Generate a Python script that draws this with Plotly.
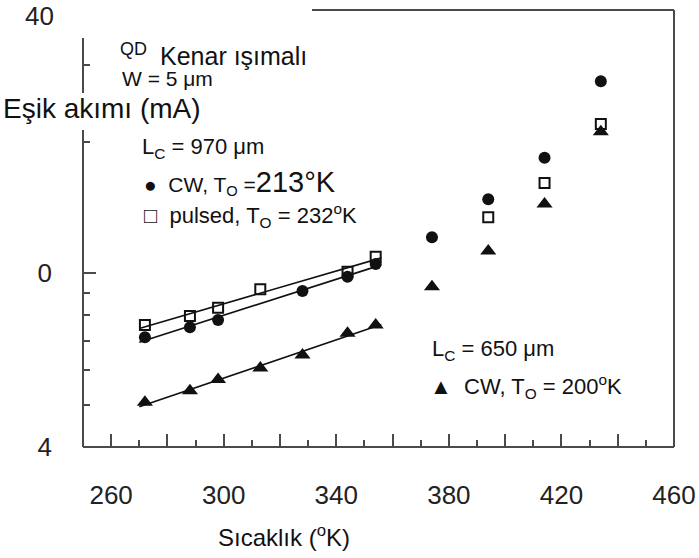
import numpy as np
import plotly.graph_objects as go

# ---- data ----
cw970_T = [272, 288, 298, 328, 344, 354, 374, 394, 414, 434]
cw970_I = [7.13, 7.52, 7.81, 9.10, 9.81, 10.49, 12.08, 14.75, 18.37, 27.5]
pulsed970_T = [272, 288, 298, 313, 344, 354, 394, 414, 434]
pulsed970_I = [7.61, 7.98, 8.33, 9.18, 10.07, 10.9, 13.42, 16.08, 21.94]
cw650_T = [272, 288, 298, 313, 328, 344, 354, 374, 394, 414, 434]
cw650_I = [5.06, 5.38, 5.71, 6.06, 6.49, 7.28, 7.61, 9.31, 11.23, 14.39, 21.07]

fit_limit_T = 355          # linear (log) fits use points up to this temperature
x_tick_labels = [260, 300, 340, 380, 420, 460]
y_tick_vals = [4, 10, 40]
y_tick_text = ["4", "0", "40"]
y_minor_vals = [5, 6, 7, 8, 9, 20, 30]

FONT = "Liberation Sans, Arial, sans-serif"
INK = "#111111"
FRAME = "#4a4a4a"

fig = go.Figure()


def fit_line(T, I):
    T = np.array(T, float)
    I = np.array(I, float)
    m = T <= fit_limit_T
    k, b = np.polyfit(T[m], np.log10(I[m]), 1)
    xs = np.array([T[m].min() - 2, T[m].max() + 2])
    return xs, 10 ** (k * xs + b)


for T, I in [(cw970_T, cw970_I), (pulsed970_T, pulsed970_I), (cw650_T, cw650_I)]:
    xs, ys = fit_line(T, I)
    fig.add_trace(go.Scatter(x=xs, y=ys, mode="lines",
                             line=dict(color=INK, width=1.6), showlegend=False,
                             hoverinfo="skip"))

fig.add_trace(go.Scatter(x=pulsed970_T, y=pulsed970_I, mode="markers",
                         marker=dict(symbol="square-open", size=10, color=INK,
                                     line=dict(width=2, color=INK)),
                         showlegend=False))
fig.add_trace(go.Scatter(x=cw970_T, y=cw970_I, mode="markers",
                         marker=dict(symbol="circle", size=12, color=INK),
                         showlegend=False))
fig.add_trace(go.Scatter(x=cw650_T, y=cw650_I, mode="markers",
                         marker=dict(symbol="triangle-up", size=14, color=INK),
                         showlegend=False))

# tick marks: long every 20, labelled every 40, short every 10
x_major = list(range(x_tick_labels[0], x_tick_labels[-1] + 1, 20))
x_major_text = [str(v) if v in x_tick_labels else "" for v in x_major]

# the top label (40) sits slightly below its tick in the reference: drawn as annotation
y_axis_text = y_tick_text[:-1] + [""]

eps = 2e-4
fig.update_xaxes(range=[250, 460], showgrid=False, zeroline=False, showline=False,
                 automargin=False,
                 tickmode="array", tickvals=x_major, ticktext=x_major_text,
                 ticks="inside", ticklen=13, tickwidth=2, tickcolor=FRAME,
                 ticklabelstandoff=30, ticklabeloverflow="allow",
                 tickfont=dict(family=FONT, size=26, color="#222222"),
                 minor=dict(dtick=10, tick0=250, ticks="inside", ticklen=7,
                            tickwidth=2, tickcolor=FRAME, showgrid=False))
fig.update_yaxes(type="log", range=[np.log10(4) - eps, np.log10(40) + eps], showgrid=False,
                 zeroline=False, showline=False, automargin=False,
                 tickmode="array", tickvals=y_tick_vals, ticktext=y_axis_text,
                 ticks="inside", ticklen=13, tickwidth=2, tickcolor=FRAME,
                 ticklabelstandoff=30, ticklabeloverflow="allow",
                 tickfont=dict(family=FONT, size=26, color="#222222"),
                 minor=dict(tickmode="array", tickvals=y_minor_vals, ticks="inside",
                            ticklen=7, tickwidth=2, tickcolor=FRAME, showgrid=False))

# plot-area geometry in pixels (for placing frame pieces and texts)
L, R, T_, B = 83, 674, 10, 447
W_, H_ = R - L, B - T_


def px(x):
    return (x - L) / W_


def py(y):
    return (B - y) / H_


frame = [
    (px(L), py(B), px(R), py(B)),          # bottom
    (px(R), py(B), px(R), py(T_)),         # right
    (px(312), py(T_), px(R), py(T_)),      # top (partially)
    (px(L), py(B), px(L), py(130)),        # left lower part
    (px(L), py(93), px(L), py(38)),        # left upper part
]
for x0, y0, x1, y1 in frame:
    fig.add_shape(type="line", xref="paper", yref="paper", x0=x0, y0=y0, x1=x1, y1=y1,
                  line=dict(color=FRAME, width=2))

fig.add_annotation(xref="paper", yref="paper", x=px(56), y=py(16), text=y_tick_text[-1],
                   showarrow=False, xanchor="right", yanchor="middle",
                   font=dict(family=FONT, size=26, color="#222222"))

texts = [
    (118, 49, "QD", 18),
    (158, 56, "Kenar ışımalı", 25),
    (120, 78, "W = 5 μm", 21),
    (1, 108, "Eşik akımı (mA)", 28),
    (140, 148, "L<sub>C</sub> = 970 μm", 22),
    (142, 183, "●  CW, T<sub>O</sub> =<span style='font-size:29px'>213°K</span>", 21),
    (142, 215, "□  pulsed, T<sub>O</sub> = 232<sup>o</sup>K", 22),
    (430, 350, "L<sub>C</sub> = 650 μm", 22),
    (428, 386, "▲  CW, T<sub>O</sub> = 200<sup>o</sup>K", 22),
    (216, 536, "Sıcaklık (<sup>o</sup>K)", 24),
]
for x, y, t, s in texts:
    fig.add_annotation(xref="paper", yref="paper", x=px(x), y=py(y), text=t,
                       showarrow=False, xanchor="left", yanchor="middle",
                       font=dict(family=FONT, size=s, color=INK))

fig.update_layout(width=699, height=558, margin=dict(l=L, r=699 - R, t=T_, b=558 - B),
                  paper_bgcolor="white", plot_bgcolor="white", showlegend=False)

fig.write_html("out.html")
